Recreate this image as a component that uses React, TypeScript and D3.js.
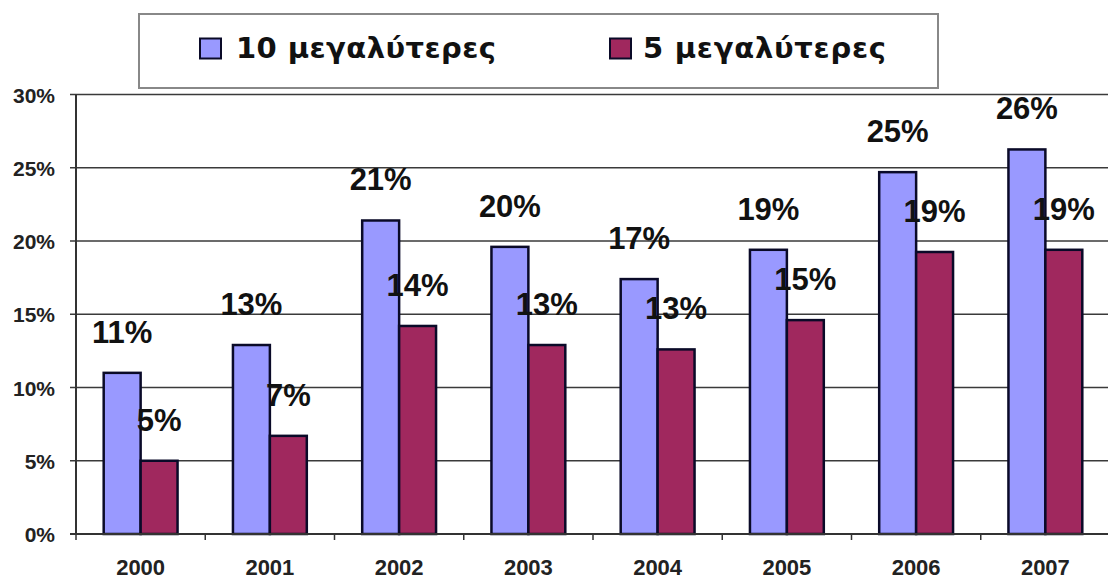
import React from 'react';
import * as d3 from 'd3';

const years = ['2000', '2001', '2002', '2003', '2004', '2005', '2006', '2007'];
const top10 = [11.0, 12.9, 21.4, 19.6, 17.4, 19.4, 24.7, 26.25];
const top5 = [5.0, 6.7, 14.2, 12.9, 12.6, 14.6, 19.25, 19.4];
const seriesNames = ['10 μεγαλύτερες', '5 μεγαλύτερες'];
const seriesColors = ['#9999FF', '#A0285E'];
const yTicks = [0, 5, 10, 15, 20, 25, 30];

const W = 1108;
const H = 580;
const FONT = "'Liberation Sans', Arial, sans-serif";
const LEGEND_FONT = "'DejaVu Sans', Verdana, sans-serif";

export default function App() {
  const x = d3.scaleBand<string>().domain(years).range([76, 1110]).paddingInner(0).paddingOuter(0);
  const inner = d3.scaleBand<string>().domain(['a', 'b']).range([0, x.bandwidth()]).paddingInner(0).paddingOuter(0.75);
  const y = d3.scaleLinear().domain([0, 30]).range([534, 94.5]);
  const series = [top10, top5];
  const keys = ['a', 'b'];

  return (
    <svg width={W} height={H} style={{ position: 'absolute', left: 0, top: 0, background: '#fff' }} fontFamily={FONT}>
      <rect x={0} y={0} width={W} height={H} fill="#fff" />
      {/* gridlines */}
      {yTicks.map((t) => (
        <line key={'g' + t} x1={70} x2={1110} y1={y(t)} y2={y(t)} stroke="#3a3a3a" strokeWidth={1.5} />
      ))}
      {/* y axis */}
      <line x1={76} x2={76} y1={y(30)} y2={y(0)} stroke="#333" strokeWidth={2} />
      {yTicks.map((t) => (
        <text key={'yl' + t} x={55} y={y(t) + 8} textAnchor="end" fontSize={21} fontWeight="bold" fill="#222">
          {t + '%'}
        </text>
      ))}
      {/* x axis ticks */}
      {years.map((yr) => (
        <line key={'xt' + yr} x1={x(yr) as number} x2={x(yr) as number} y1={y(0)} y2={y(0) + 6} stroke="#333" strokeWidth={1.5} />
      ))}
      {years.map((yr) => (
        <text key={'xl' + yr} x={(x(yr) as number) + x.bandwidth() / 2} y={575} textAnchor="middle" fontSize={22} fontWeight="bold" fill="#222">
          {yr}
        </text>
      ))}
      {/* bars */}
      {series.map((vals, si) =>
        years.map((yr, i) => (
          <rect
            key={'b' + si + yr}
            x={(x(yr) as number) + (inner(keys[si]) as number)}
            y={y(vals[i])}
            width={inner.bandwidth()}
            height={y(0) - y(vals[i])}
            fill={seriesColors[si]}
            stroke="#0a0a28"
            strokeWidth={2.5}
          />
        ))
      )}
      {/* value labels */}
      {series.map((vals, si) =>
        years.map((yr, i) => (
          <text
            key={'l' + si + yr}
            x={(x(yr) as number) + (inner(keys[si]) as number) + inner.bandwidth() / 2}
            y={y(vals[i]) - 30}
            textAnchor="middle"
            fontSize={31}
            fontWeight="bold"
            fill="#111"
          >
            {Math.round(vals[i]) + '%'}
          </text>
        ))
      )}
      {/* axis line bottom */}
      <line x1={70} x2={1110} y1={y(0)} y2={y(0)} stroke="#333" strokeWidth={2} />
      {/* legend */}
      <rect x={139} y={14} width={799} height={74} fill="#fff" stroke="#888" strokeWidth={2} />
      <rect x={200} y={38.5} width={21} height={20} fill={seriesColors[0]} stroke="#0a0a28" strokeWidth={2} />
      <text x={236} y={58.3} fontFamily={LEGEND_FONT} fontSize={29} fontWeight="bold" fill="#111" textLength={260} lengthAdjust="spacing">
        {seriesNames[0]}
      </text>
      <rect x={610} y={38.5} width={21} height={20} fill={seriesColors[1]} stroke="#0a0a28" strokeWidth={2} />
      <text x={643} y={58.3} fontFamily={LEGEND_FONT} fontSize={29} fontWeight="bold" fill="#111" textLength={243} lengthAdjust="spacing">
        {seriesNames[1]}
      </text>
    </svg>
  );
}
